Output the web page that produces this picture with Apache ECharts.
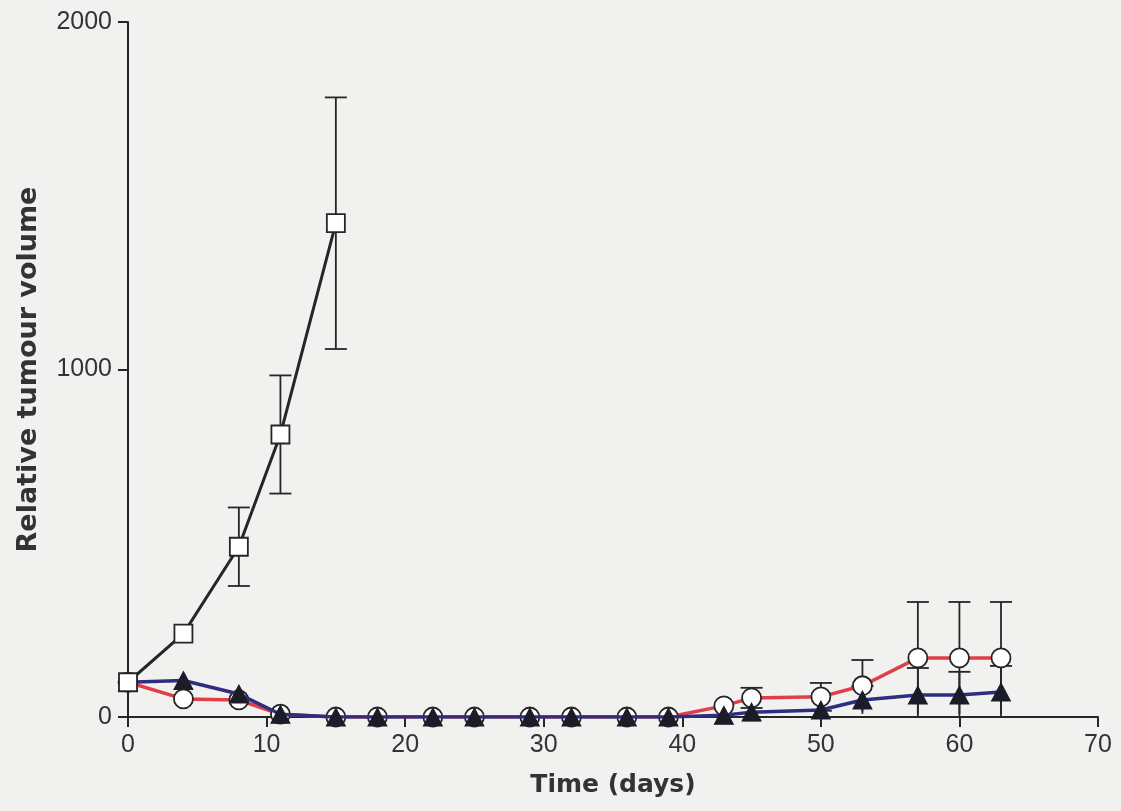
<!DOCTYPE html>
<html>
<head>
<meta charset="utf-8">
<script src="https://cdn.jsdelivr.net/npm/echarts@6/dist/echarts.min.js"></script>
<style>
  html, body { margin: 0; padding: 0; background: #f1f1ef; }
  #chart { width: 1121px; height: 811px; }
</style>
</head>
<body>
<div id="chart"></div>
<script>
// Control group (open squares)
const controlDays = [0, 4, 8, 11, 15];
const controlVolume = [100, 240, 490, 813, 1421];
const controlSem = [0, 0, 113, 170, 362];

// Treated group A (open circles, red line)
const groupADays = [0, 4, 8, 11, 15, 18, 22, 25, 29, 32, 36, 39, 43, 45, 50, 53, 57, 60, 63];
const groupAVolume = [100, 52, 49, 8, 0, 0, 0, 0, 0, 0, 0, 0, 32, 55, 58, 90, 170, 170, 170];
const groupASem = [0, 0, 0, 0, 0, 0, 0, 0, 0, 0, 0, 0, 0, 29, 40, 74, 161, 161, 161];

// Treated group B (filled triangles, blue line)
const groupBDays = [0, 4, 8, 11, 15, 18, 22, 25, 29, 32, 36, 39, 43, 45, 50, 53, 57, 60, 63];
const groupBVolume = [100, 105, 66, 8, 0, 0, 0, 0, 0, 0, 0, 0, 5, 14, 20, 49, 63, 63, 72];
const groupBSem = [0, 0, 0, 0, 0, 0, 0, 0, 0, 0, 0, 0, 0, 0, 0, 40, 78, 67, 75];

const xTicks = [0, 10, 20, 30, 40, 50, 60, 70];
const yTicks = [0, 1000, 2000];

const ink = '#262626';
const textColor = '#333333';

function pairs(xs, ys) {
  return xs.map((x, i) => [x, ys[i]]);
}
function errRows(xs, ys, es) {
  return xs.map((x, i) => [x, ys[i], ys[i] - es[i], ys[i] + es[i]])
           .filter((r, i) => es[i] > 0);
}

// Vertical error bar with caps; a lower end that reaches the x axis gets no cap
function renderErr(params, api) {
  const x = api.value(0);
  const lo = api.value(2);
  const hi = api.value(3);
  const pHi = api.coord([x, hi]);
  const pLo = api.coord([x, Math.max(lo, 0)]);
  const pAxis = api.coord([x, 0]);
  const hw = 11;
  const st = { stroke: ink, lineWidth: 1.8 };
  const children = [
    { type: 'line', shape: { x1: pHi[0], y1: pHi[1], x2: pLo[0], y2: pLo[1] }, style: st },
    { type: 'line', shape: { x1: pHi[0] - hw, y1: pHi[1], x2: pHi[0] + hw, y2: pHi[1] }, style: st }
  ];
  if (pAxis[1] - pLo[1] > 6) {
    children.push({ type: 'line', shape: { x1: pLo[0] - hw, y1: pLo[1], x2: pLo[0] + hw, y2: pLo[1] }, style: st });
  }
  return { type: 'group', children };
}

const chart = echarts.init(document.getElementById('chart'), null, { renderer: 'canvas' });

chart.setOption({
  backgroundColor: '#f1f1ef',
  animation: false,
  grid: { left: 128, right: 23, top: 22, bottom: 94, containLabel: false },
  xAxis: {
    type: 'value',
    min: xTicks[0],
    max: xTicks[xTicks.length - 1],
    interval: 10,
    name: 'Time (days)',
    nameLocation: 'middle',
    nameGap: 56,
    nameTextStyle: { fontFamily: 'DejaVu Sans', fontWeight: 'bold', fontSize: 25, color: textColor },
    axisLine: { show: true, lineStyle: { color: ink, width: 2 } },
    axisTick: { show: true, inside: false, length: 10, lineStyle: { color: ink, width: 2 } },
    axisLabel: { margin: 16, fontFamily: 'Liberation Sans', fontSize: 25, color: textColor,
                 formatter: v => String(v) },
    splitLine: { show: false }
  },
  yAxis: {
    type: 'value',
    min: yTicks[0],
    max: yTicks[yTicks.length - 1],
    interval: 1000,
    name: 'Relative tumour volume',
    nameLocation: 'middle',
    nameGap: 86,
    nameRotate: 90,
    nameTextStyle: { fontFamily: 'DejaVu Sans', fontWeight: 'bold', fontSize: 27, color: textColor },
    axisLine: { show: true, lineStyle: { color: ink, width: 2 } },
    axisTick: { show: true, inside: false, length: 10, lineStyle: { color: ink, width: 2 } },
    axisLabel: { margin: 16, fontFamily: 'Liberation Sans', fontSize: 25, color: textColor,
                 formatter: v => String(v) },
    splitLine: { show: false }
  },
  series: [
    {
      type: 'custom', z: 1, renderItem: renderErr,
      data: errRows(groupADays, groupAVolume, groupASem)
    },
    {
      type: 'custom', z: 1, renderItem: renderErr,
      data: errRows(groupBDays, groupBVolume, groupBSem)
    },
    {
      type: 'custom', z: 1, renderItem: renderErr,
      data: errRows(controlDays, controlVolume, controlSem)
    },
    {
      name: 'Group A', type: 'line', z: 3,
      data: pairs(groupADays, groupAVolume),
      lineStyle: { color: '#e23e4a', width: 3.5 },
      symbol: 'circle', symbolSize: 19, showAllSymbol: true,
      itemStyle: { color: '#ffffff', borderColor: ink, borderWidth: 1.8 }
    },
    {
      name: 'Group B', type: 'line', z: 4,
      data: pairs(groupBDays, groupBVolume),
      lineStyle: { color: '#2e2e80', width: 3.5 },
      symbol: 'triangle', symbolSize: [19, 18], showAllSymbol: true,
      itemStyle: { color: '#1c1c28', borderColor: '#1c1c28', borderWidth: 1 }
    },
    {
      name: 'Control', type: 'line', z: 5,
      data: pairs(controlDays, controlVolume),
      lineStyle: { color: ink, width: 3 },
      symbol: 'rect', symbolSize: 18, showAllSymbol: true,
      itemStyle: { color: '#ffffff', borderColor: ink, borderWidth: 1.8 }
    }
  ]
});
</script>
</body>
</html>
